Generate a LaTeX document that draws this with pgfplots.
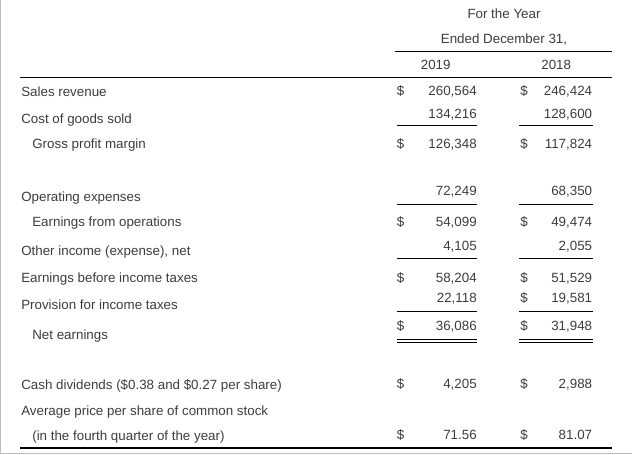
\documentclass[border=0pt]{standalone}
\usepackage{pgfplots}
\pgfplotsset{compat=1.18}
\usepackage{pgfplotstable}
\usepackage{fontspec}
\setmainfont{Liberation Sans}
\definecolor{txt}{RGB}{60,60,60}
\definecolor{framegray}{RGB}{190,190,190}

% row labels: x (left edge), y (pixel row), text
\pgfplotstableread{
x y t
24 92 {Sales revenue}
24 119 {Cost of goods sold}
35 144 {Gross profit margin}
24 197 {Operating expenses}
35 222 {Earnings from operations}
24 251 {Other income (expense), net}
24 277 {Earnings before income taxes}
24 304 {Provision for income taxes}
35 334 {Net earnings}
24 384 {Cash dividends (\$0.38 and \$0.27 per share)}
24 410 {Average price per share of common stock}
35 435 {(in the fourth quarter of the year)}
}\labelstab

% values: y, 2019, 2018
\pgfplotstableread{
y v19 v18
91 {260,564} {246,424}
114 {134,216} {128,600}
144 {126,348} {117,824}
191 {72,249} {68,350}
222 {54,099} {49,474}
246 {4,105} {2,055}
277 {58,204} {51,529}
297 {22,118} {19,581}
325 {36,086} {31,948}
383 {4,205} {2,988}
434 {71.56} {81.07}
}\valtab

% dollar signs: x, y
\pgfplotstableread{
x y t
402 91 d
402 144 d
402 222 d
402 277 d
402 325 d
402 383 d
402 434 d
525 91 d
525 144 d
525 222 d
525 277 d
525 297 d
525 325 d
525 383 d
525 434 d
}\dollartab

% headers
\pgfplotstableread{
x y t
505 14 {For the Year}
505 39 {Ended December 31,}
437 65 {2019}
557 65 {2018}
}\headtab

\pgfplotsset{
  txtplot/.style={draw=none, mark=none, nodes near coords, point meta=explicit symbolic,
    every node near coord/.style={font=\fontsize{13.3bp}{15bp}\selectfont, text=txt,
      inner sep=0pt, text height=9.6bp, text depth=2.7bp, anchor=#1}},
}

\begin{document}
\begin{tikzpicture}
\begin{axis}[
  width=632bp, height=453bp, scale only axis,
  xmin=0, xmax=632, ymin=0, ymax=453, y dir=reverse,
  hide axis, clip=false,
]
% frame (gray)
\addplot[framegray, line width=1bp] coordinates {(3.5,0) (3.5,451.5)};
\addplot[framegray, line width=1bp] coordinates {(3.5,451.5) (632,451.5)};
% rules
\addplot[black, line width=1bp] coordinates {(396,50.5) (613,50.5)};
\addplot[black, line width=1bp] coordinates {(23,76.5) (613,76.5)};
\addplot[black, line width=1bp] coordinates {(398,124.5) (478,124.5)};
\addplot[black, line width=1bp] coordinates {(520,124.5) (594,124.5)};
\addplot[black, line width=1bp] coordinates {(398,203.5) (478,203.5)};
\addplot[black, line width=1bp] coordinates {(520,203.5) (594,203.5)};
\addplot[black, line width=1bp] coordinates {(398,256.5) (478,256.5)};
\addplot[black, line width=1bp] coordinates {(520,256.5) (594,256.5)};
\addplot[black, line width=1bp] coordinates {(398,309.5) (478,309.5)};
\addplot[black, line width=1bp] coordinates {(520,309.5) (594,309.5)};
\addplot[black, line width=1bp] coordinates {(398,337.5) (478,337.5)};
\addplot[black, line width=1bp] coordinates {(520,337.5) (594,337.5)};
\addplot[black, line width=1bp] coordinates {(398,340.5) (478,340.5)};
\addplot[black, line width=1bp] coordinates {(520,340.5) (594,340.5)};
\addplot[black, line width=2bp] coordinates {(23,446) (613,446)};
% text
\addplot[txtplot=west] table[x=x, y=y, meta=t] {\labelstab};
\addplot[txtplot=center] table[x=x, y=y, meta=t] {\headtab};
\addplot[txtplot=east] table[x expr=478, y=y, meta=v19] {\valtab};
\addplot[txtplot=east] table[x expr=593, y=y, meta=v18] {\valtab};
\addplot[txtplot=center, nodes near coords={\$}] table[x=x, y=y, meta=t] {\dollartab};
\end{axis}
\end{tikzpicture}
\end{document}
